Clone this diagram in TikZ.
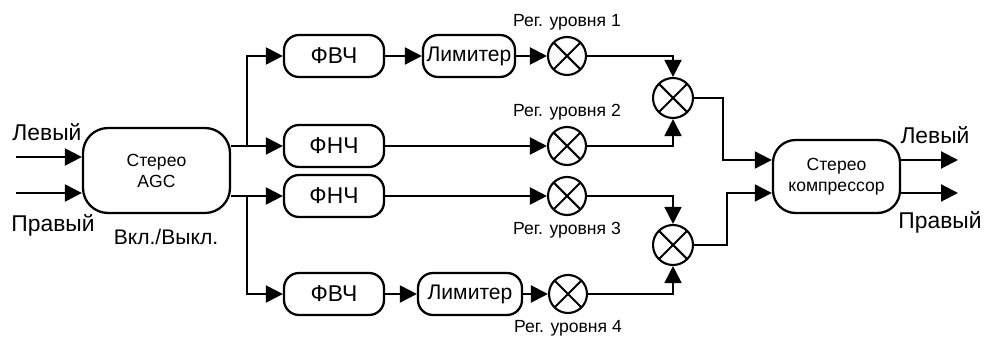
\documentclass[tikz,border=0pt]{standalone}
\usepackage{fontspec}
\setmainfont{Liberation Sans}
\usetikzlibrary{arrows.meta,positioning,calc}

\begin{document}
\begin{tikzpicture}[
    % GLOBAL CFG
    x=0.02cm, y=-0.02cm,
    font=\fontsize{13}{15}\selectfont,
    >={Triangle[length=0.34cm,width=0.34cm]},
    % Styles
    cell/.style={% For the big blocks (AGC, compressor)
        rectangle,
        rounded corners=0.5cm,
        draw,
        line width=1.3pt,
        align=center,
        font=\fontsize{10}{12}\selectfont,
        },
    filt/.style={% For filters and limiters
        rectangle,
        rounded corners=0.3cm,
        draw,
        line width=1.3pt,
        minimum width=2cm,
        minimum height=0.84cm,
        inner sep=1pt,
        },
    operator/.style={% For level controls, x in a circle
        circle,
        draw,
        fill=white,
        line width=1.2pt,
        minimum size=0.76cm,
        inner sep=0pt,
        path picture={
            \draw[line width=1.2pt] (path picture bounding box.north west) -- (path picture bounding box.south east)
                (path picture bounding box.north east) -- (path picture bounding box.south west);
            },
        },
    mylabel/.style={% small labels of the level controls
        font=\fontsize{10}{12}\selectfont,
        label distance=0pt,
        },
    ArrowC1/.style={% main lines
        line width=1.2pt,
        },
    ArrowC2/.style={% lines after the level controls
        line width=1pt,
        },
    ]

\useasboundingbox (0,0) rectangle (987,347);

%Start drawing the thing...
    % Big blocks
    \node [cell, minimum width=2.94cm, minimum height=1.7cm] (agc) at (156.5,170.5) {Стерео\\AGC};
    \node [cell, minimum width=2.54cm, minimum height=1.46cm, rounded corners=0.45cm] (comp) at (836.5,176.5) {Стерео\\компрессор};

    % Filters named hpf# , lpf#  and limiters lim#
    \node [filt] (hpf1) at (334,56) {ФВЧ};
    \node [filt] (lpf1) at (334,146) {ФНЧ};
    \node [filt] (lpf2) at (334,196) {ФНЧ};
    \node [filt] (hpf2) at (334,294) {ФВЧ};
    \node [filt, minimum width=1.84cm, font=\fontsize{12}{14}\selectfont] (lim1) at (469,56) {Лимитер};
    \node [filt, minimum width=2.08cm, font=\fontsize{12}{14}\selectfont] (lim2) at (470,294) {Лимитер};

    % Level controls named mux# and mixers mix#
    \node [operator, label={[mylabel]above:Рег. уровня 1}] (mux1) at (567,56) {};
    \node [operator, label={[mylabel]above:Рег. уровня 2}] (mux2) at (567,146) {};
    \node [operator, label={[mylabel]below:Рег. уровня 3}] (mux3) at (567,196) {};
    \node [operator, label={[mylabel]below:Рег. уровня 4}] (mux4) at (568,294) {};
    \node [operator, minimum size=0.8cm] (mix1) at (673,98) {};
    \node [operator, minimum size=0.8cm] (mix2) at (673,245) {};

    % Texts
    \node (inL) at (47,132) {Левый};
    \node (inR) at (53,225) {Правый};
    \node [font=\fontsize{12}{14}\selectfont] (onoff) at (166,237) {Вкл./Выкл.};
    \node (outLt) at (935,135) {Левый};
    \node (outRt) at (940,222) {Правый};

    % Free ends and split points
    \coordinate (in1) at (16,157);
    \coordinate (in2) at (16,193);
    \coordinate (out1) at (958,160);
    \coordinate (out2) at (958,193);
    \coordinate (j1) at (247,146);
    \coordinate (j2) at (247,196);

    % Inputs
    \draw [->, ArrowC1] (in1) -- (agc.west |- in1);
    \draw [->, ArrowC1] (in2) -- (agc.west |- in2);

    % AGC to the four bands
    \draw [->, ArrowC1] (agc.east |- j1) -- (lpf1.west);
    \draw [->, ArrowC1] (agc.east |- j2) -- (lpf2.west);
    \draw [->, ArrowC1] (j1) |- (hpf1.west);
    \draw [->, ArrowC1] (j2) |- (hpf2.west);

    % Bands
    \draw [->, ArrowC1] (hpf1) -- (lim1);
    \draw [->, ArrowC1] (lim1) -- (mux1);
    \draw [->, ArrowC1] (lpf1) -- (mux2);
    \draw [->, ArrowC1] (lpf2) -- (mux3);
    \draw [->, ArrowC1] (hpf2) -- (lim2);
    \draw [->, ArrowC1] (lim2) -- (mux4);

    % Mixing
    \draw [->, ArrowC2] (mux1) -| (mix1);
    \draw [->, ArrowC2] (mux2) -| (mix1);
    \draw [->, ArrowC2] (mux3) -| (mix2);
    \draw [->, ArrowC2] (mux4) -| (mix2);
    \draw [->, ArrowC2] (mix1) -- ++(50,0) |- ([yshift=0.33cm]comp.west);
    \draw [->, ArrowC2] (mix2) -- ++(54,0) |- ([yshift=-0.33cm]comp.west);

    %Outputs
    \draw [->, ArrowC1] (comp.east |- out1) -- (out1);
    \draw [->, ArrowC1] (comp.east |- out2) -- (out2);

\end{tikzpicture}
\end{document}
